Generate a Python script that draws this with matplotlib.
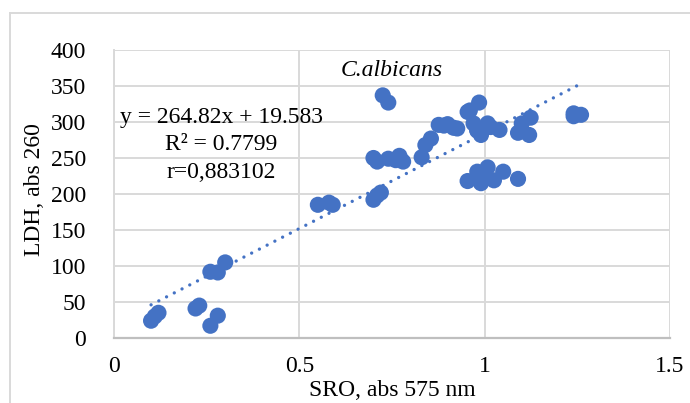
import matplotlib
matplotlib.use("Agg")
import matplotlib.pyplot as plt
import numpy as np
from matplotlib.lines import Line2D

# SRO absorbance (575 nm) vs LDH absorbance (260), C. albicans samples
sro = [0.10, 0.11, 0.12, 0.22, 0.23, 0.26, 0.28, 0.26, 0.28, 0.30,
       0.55, 0.58, 0.59, 0.70, 0.71, 0.72, 0.725, 0.74,
       0.70, 0.71, 0.74, 0.76, 0.77, 0.78,
       0.83, 0.84, 0.855, 0.876, 0.89, 0.90, 0.916, 0.926,
       0.954, 0.96, 0.97, 0.98, 0.985, 0.98, 0.99, 1.008, 1.016, 1.04,
       1.09, 1.10, 1.12, 1.124, 1.24, 1.24, 1.26,
       0.954, 0.98, 0.99, 0.99, 1.008, 1.025, 1.05, 1.09]
ldh = [24, 30, 35, 41, 45, 17, 31, 92, 91, 105,
       185, 188, 185, 192, 198, 202, 337, 327,
       250, 245, 249, 247, 253, 245,
       251, 268, 277, 296, 295, 297, 292, 291,
       314, 316, 298, 289, 327, 288, 282, 298, 293, 289,
       285, 298, 282, 306, 312, 308, 310,
       218, 231, 215, 222, 237, 219, 231, 221]

slope, intercept = 264.82, 19.583
eq_lines = ["y = 264.82x + 19.583", "R\u00b2 = 0.7799", "r=0,883102"]

x_ticks = [0, 0.5, 1, 1.5]
x_ticklabels = ["0", "0.5", "1", "1.5"]
y_ticks = list(range(0, 401, 50))

blue = "#4472C4"
grid = "#D9D9D9"
fs = 17
plt.rcParams["font.family"] = ["Liberation Serif", "DejaVu Serif"]

fig = plt.figure(figsize=(6.9, 4.03), dpi=100)
ax = fig.add_axes([114 / 690, 1 - 338 / 403, 556 / 690, 288 / 403])

ax.set_xlim(0, 1.5)
ax.set_ylim(0, 400)
ax.set_xticks(x_ticks, x_ticklabels)
ax.set_yticks(y_ticks)
ax.tick_params(length=0, labelsize=fs, colors="black")
ax.tick_params(axis="x", pad=13)
ax.tick_params(axis="y", pad=20)
ax.grid(True, color=grid, lw=1.4)
ax.set_axisbelow(True)
for side in ("top", "right"):
    ax.spines[side].set_visible(False)
ax.spines["left"].set_color(grid)
ax.spines["left"].set_linewidth(1.4)
ax.spines["bottom"].set_color("#BFBFBF")
ax.spines["bottom"].set_linewidth(1.6)

ax.scatter(sro, ldh, s=135, color=blue, edgecolors="none", zorder=3)

# linear trendline across the data range
xt = np.array([min(sro), max(sro)])
ax.plot(xt, slope * xt + intercept, color=blue, lw=2.4,
        linestyle=(0, (0.01, 2.6)), dash_capstyle="round", zorder=4)

ax.text(0.5, 0.93, "C.albicans", transform=ax.transAxes, ha="center",
        va="center", fontsize=fs, style="italic")
ax.text(221 / 690, 1 - 118 / 403, eq_lines[0], transform=fig.transFigure,
        ha="center", va="center", fontsize=fs)
for line, yp in zip(eq_lines[1:], (145, 172)):
    ax.text(221 / 690, 1 - yp / 403, line, transform=fig.transFigure,
            ha="center", va="center", fontsize=fs)

fig.text(392 / 690, 1 - 390 / 403, "SRO, abs 575 nm", ha="center",
         va="center", fontsize=fs)
fig.text(35 / 690, 1 - 190 / 403, "LDH, abs 260", ha="center",
         va="center", rotation=90, fontsize=fs)

# outer chart frame
fig.add_artist(Line2D([10 / 690, 10 / 690], [0, 1 - 13 / 403],
                      transform=fig.transFigure, color=grid, lw=1.4))
fig.add_artist(Line2D([10 / 690, 1], [1 - 13 / 403, 1 - 13 / 403],
                      transform=fig.transFigure, color=grid, lw=1.4))

fig.savefig("out.png", dpi=100)
